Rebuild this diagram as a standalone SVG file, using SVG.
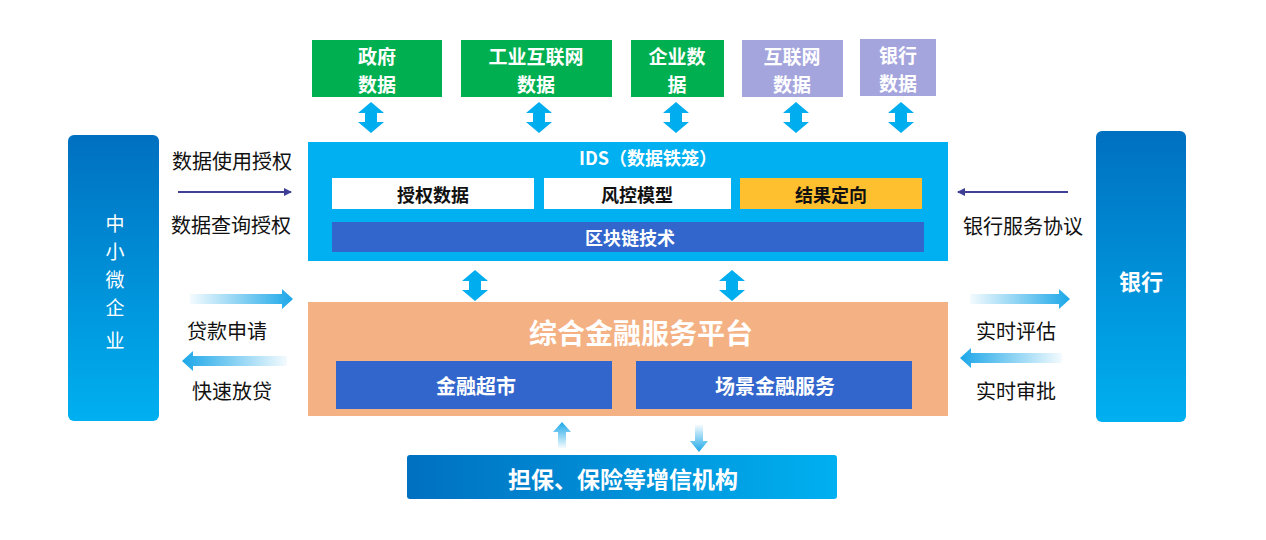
<svg xmlns="http://www.w3.org/2000/svg" width="1266" height="540" viewBox="0 0 1266 540">
<defs>
<linearGradient id="gV" x1="0" y1="0" x2="0" y2="1"><stop offset="0" stop-color="#0070c0"/><stop offset="1" stop-color="#00b0f0"/></linearGradient>
<linearGradient id="gH" x1="0" y1="0" x2="1" y2="0"><stop offset="0" stop-color="#0070c0"/><stop offset="1" stop-color="#00b0f0"/></linearGradient>
<linearGradient id="gR" x1="0" y1="0" x2="1" y2="0"><stop offset="0" stop-color="#1ba7e8" stop-opacity="0.05"/><stop offset="1" stop-color="#1ba7e8"/></linearGradient>
<linearGradient id="gL" x1="1" y1="0" x2="0" y2="0"><stop offset="0" stop-color="#1ba7e8" stop-opacity="0.05"/><stop offset="1" stop-color="#1ba7e8"/></linearGradient>
<linearGradient id="gU" x1="0" y1="1" x2="0" y2="0"><stop offset="0" stop-color="#1ba7e8" stop-opacity="0.05"/><stop offset="1" stop-color="#1ba7e8"/></linearGradient>
<linearGradient id="gD" x1="0" y1="0" x2="0" y2="1"><stop offset="0" stop-color="#1ba7e8" stop-opacity="0.05"/><stop offset="1" stop-color="#1ba7e8"/></linearGradient>
<marker id="thin" markerWidth="8" markerHeight="8" refX="7" refY="4" orient="auto" markerUnits="userSpaceOnUse"><path d="M0,0 L8,4 L0,8 Z" fill="#3f3f96"/></marker>
<path id="dbl" d="M0,0 L13,11 L6,11 L6,20 L13,20 L0,31 L-13,20 L-6,20 L-6,11 L-13,11 Z" fill="#00aeef"/>
</defs>
<style>
text{font-family:"Noto Sans CJK SC","Liberation Sans",sans-serif;text-anchor:middle;dominant-baseline:central}
.w{fill:#fff;font-weight:bold}
.k{fill:#111;font-size:20px}
.top{font-size:19px}
.in{font-size:18px;font-weight:bold;fill:#111}
</style>
<rect width="1266" height="540" fill="#fff"/>

<g id="gov"><rect x="312" y="40" width="130" height="57" fill="#00b050"/><text class="w top" x="377" y="55">政府</text><text class="w top" x="377" y="83">数据</text></g>
<g id="industry"><rect x="461" y="40" width="151" height="57" fill="#00b050"/><text class="w top" x="536" y="55">工业互联网</text><text class="w top" x="536" y="83">数据</text></g>
<g id="enterprise"><rect x="631" y="40" width="93" height="57" fill="#00b050"/><text class="w top" x="677" y="55">企业数</text><text class="w top" x="677" y="83">据</text></g>
<g id="internet"><rect x="742" y="40" width="101" height="57" fill="#a5a5de"/><text class="w top" x="792" y="55">互联网</text><text class="w top" x="792" y="83">数据</text></g>
<g id="bankdata"><rect x="860" y="39" width="76" height="57" fill="#a5a5de"/><text class="w top" x="898" y="54">银行</text><text class="w top" x="898" y="82">数据</text></g>

<g id="sme"><rect x="68" y="135" width="91" height="286" rx="6" fill="url(#gV)"/>
<text x="115" y="222" fill="#fff" font-size="19">中</text><text x="115" y="250" fill="#fff" font-size="19">小</text><text x="115" y="278" fill="#fff" font-size="19">微</text><text x="115" y="306" fill="#fff" font-size="19">企</text><text x="115" y="339" fill="#fff" font-size="19">业</text></g>

<g id="bank"><rect x="1096" y="131" width="90" height="291" rx="6" fill="url(#gV)"/><text class="w" x="1141" y="280" font-size="22">银行</text></g>

<g id="ids"><rect x="308" y="142" width="640" height="119" fill="#00b0f0"/>
<text class="w" x="648" y="157" font-size="18">IDS（数据铁笼）</text>
<rect x="332" y="178" width="202" height="31" fill="#fff"/><text class="in" x="433" y="194">授权数据</text>
<rect x="544" y="178" width="187" height="31" fill="#fff"/><text class="in" x="637" y="194">风控模型</text>
<rect x="740" y="178" width="182" height="31" fill="#ffc030"/><text class="in" x="831" y="194">结果定向</text>
<rect x="332" y="222" width="592" height="30" fill="#3366cc"/><text class="w" x="630" y="237" font-size="18">区块链技术</text></g>

<g id="platform"><rect x="308" y="302" width="640" height="114" fill="#f4b183"/>
<text class="w" x="641" y="332" font-size="28">综合金融服务平台</text>
<rect x="336" y="361" width="276" height="48" fill="#3366cc"/><text class="w" x="476" y="385" font-size="20">金融超市</text>
<rect x="636" y="361" width="276" height="48" fill="#3366cc"/><text class="w" x="775" y="385" font-size="20">场景金融服务</text></g>

<g id="guarantee"><rect x="407" y="455" width="430" height="44" rx="3" fill="url(#gH)"/><text class="w" x="623" y="478" font-size="23">担保、保险等增信机构</text></g>

<g id="connectors">
<use href="#dbl" x="371" y="102"/>
<use href="#dbl" x="539" y="102"/>
<use href="#dbl" x="676" y="102"/>
<use href="#dbl" x="796" y="102"/>
<use href="#dbl" x="901" y="102"/>
<use href="#dbl" x="475" y="270"/>
<use href="#dbl" x="732" y="270"/>
<line x1="178" y1="192" x2="291" y2="192" stroke="#3f3f96" stroke-width="2" marker-end="url(#thin)"/>
<line x1="1068" y1="192" x2="958" y2="192" stroke="#3f3f96" stroke-width="2" marker-end="url(#thin)"/>
<path d="M190,294 L282,294 L282,289 L293,299 L282,309 L282,304 L190,304 Z" fill="url(#gR)"/>
<path d="M287,356 L193,356 L193,351 L182,361 L193,371 L193,366 L287,366 Z" fill="url(#gL)"/>
<path d="M970,294 L1059,294 L1059,289 L1070,299 L1059,309 L1059,304 L970,304 Z" fill="url(#gR)"/>
<path d="M1062,353 L971,353 L971,348 L960,358 L971,368 L971,363 L1062,363 Z" fill="url(#gL)"/>
<path d="M558,448 L558,432 L553,432 L562,422 L571,432 L566,432 L566,448 Z" fill="url(#gU)"/>
<path d="M695,425 L695,441 L690,441 L699,452 L708,441 L703,441 L703,425 Z" fill="url(#gD)"/>
</g>

<g id="labels">
<text class="k" x="232" y="160">数据使用授权</text>
<text class="k" x="231" y="224">数据查询授权</text>
<text class="k" x="227" y="330">贷款申请</text>
<text class="k" x="232" y="390">快速放贷</text>
<text class="k" x="1023" y="225">银行服务协议</text>
<text class="k" x="1016" y="330">实时评估</text>
<text class="k" x="1016" y="390">实时审批</text>
</g>
</svg>
